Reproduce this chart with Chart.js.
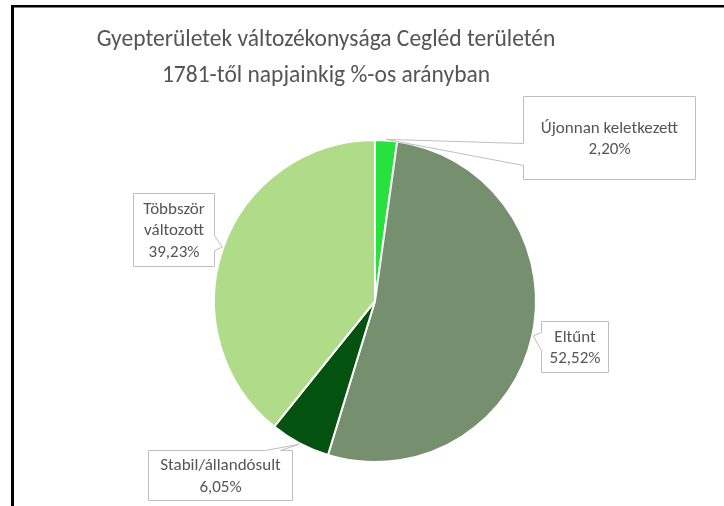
<!DOCTYPE html>
<html>
<head>
<meta charset="utf-8">
<script src="https://cdn.jsdelivr.net/npm/chart.js@4.4.1/dist/chart.umd.min.js"></script>
<style>
  html, body { margin: 0; padding: 0; background: #fff; }
  #wrap { width: 724px; height: 506px; }
</style>
</head>
<body>
<div id="wrap"><canvas id="chart-grass" width="724" height="506"></canvas></div>
<script>
const titleLines = ['Gyepterületek változékonysága Cegléd területén', '1781-től napjainkig %-os arányban'];
const categories = ['Újonnan keletkezett', 'Eltűnt', 'Stabil/állandósult', ['Többször', 'változott']];
const shares = [2.20, 52.52, 6.05, 39.23];
const sliceColors = ['#27e13c', '#768f6e', '#03520f', '#b0dc8a'];

const textColor = '#555555';
const fontFamily = 'Carlito, Lato, "Open Sans", sans-serif';

function pct(v) {
  return v.toFixed(2).replace('.', ',') + '%';
}

// title + the black frame of the original sheet
const sheetPlugin = {
  id: 'sheet',
  beforeDraw(chart, args, opts) {
    const ctx = chart.ctx;
    ctx.save();
    ctx.fillStyle = '#fff';
    ctx.fillRect(0, 0, chart.width, chart.height);
    ctx.fillStyle = textColor;
    ctx.font = opts.titleSize + 'px ' + fontFamily;
    ctx.textAlign = 'center';
    ctx.textBaseline = 'alphabetic';
    titleLines.forEach((line, i) => {
      ctx.fillText(line, opts.titleX, opts.titleY + i * opts.titleLead);
    });
    ctx.restore();
  },
  afterDraw(chart, args, opts) {
    const ctx = chart.ctx;
    ctx.save();
    ctx.fillStyle = '#000';
    ctx.fillRect(opts.frameX, opts.frameY, 3, chart.height);
    ctx.fillRect(opts.frameX, opts.frameY, chart.width, 2.5);
    ctx.restore();
  }
};

// excel style data callouts, a box with a wedge pointing at the slice
const calloutPlugin = {
  id: 'callouts',
  afterDatasetsDraw(chart, args, opts) {
    const ctx = chart.ctx;
    const meta = chart.getDatasetMeta(0);
    const values = chart.data.datasets[0].data;
    meta.data.forEach((arc, i) => {
      const box = opts.boxes[i];
      const p = arc.getProps(['x', 'y', 'startAngle', 'endAngle', 'outerRadius'], true);
      const mid = (p.startAngle + p.endAngle) / 2;
      const r = p.outerRadius + opts.tipGap;
      const tx = p.x + Math.cos(mid) * r;
      const ty = p.y + Math.sin(mid) * r;
      const x = Math.round(p.x + box.dx) + 0.5;
      const y = Math.round(p.y + box.dy) + 0.5;
      const w = box.w, h = box.h;
      const [a, b] = box.base;

      ctx.save();
      ctx.beginPath();
      ctx.moveTo(x, y);
      if (box.side === 'top') {
        ctx.lineTo(x + a, y);
        ctx.lineTo(tx, ty);
        ctx.lineTo(x + b, y);
      }
      ctx.lineTo(x + w, y);
      if (box.side === 'right') {
        ctx.lineTo(x + w, y + a);
        ctx.lineTo(tx, ty);
        ctx.lineTo(x + w, y + b);
      }
      ctx.lineTo(x + w, y + h);
      ctx.lineTo(x, y + h);
      if (box.side === 'left') {
        ctx.lineTo(x, y + b);
        ctx.lineTo(tx, ty);
        ctx.lineTo(x, y + a);
      }
      ctx.closePath();
      ctx.fillStyle = '#fff';
      ctx.fill();
      ctx.strokeStyle = '#bfbfbf';
      ctx.lineWidth = 1;
      ctx.stroke();

      const label = chart.data.labels[i];
      const lines = (Array.isArray(label) ? label : [label]).concat(pct(values[i]));
      ctx.fillStyle = textColor;
      ctx.font = opts.fontSize + 'px ' + fontFamily;
      ctx.textAlign = 'center';
      ctx.textBaseline = 'middle';
      const top = y + h / 2 - (lines.length - 1) * opts.lineHeight / 2 + 1;
      lines.forEach((ln, k) => {
        ctx.fillText(ln, x + w / 2, top + k * opts.lineHeight);
      });
      ctx.restore();
    });
  }
};

const ctx = document.getElementById('chart-grass').getContext('2d');
const chart = new Chart(ctx, {
  type: 'pie',
  data: {
    labels: categories,
    datasets: [{
      data: shares,
      backgroundColor: sliceColors,
      borderColor: '#ffffff',
      borderWidth: 2
    }]
  },
  options: {
    responsive: false,
    devicePixelRatio: 1,
    animation: false,
    layout: {
      padding: { top: 139, bottom: 43, left: 26, right: 0 }
    },
    plugins: {
      legend: { display: false },
      tooltip: { enabled: false },
      title: { display: false },
      sheet: {
        titleSize: 23.5, titleX: 326, titleY: 46, titleLead: 36,
        frameX: 11, frameY: 5
      },
      callouts: {
        fontSize: 17,
        lineHeight: 21.5,
        tipGap: 1,
        boxes: [
          { dx: 148, dy: -205, w: 172, h: 83, side: 'left', base: [47, 69] },
          { dx: 166, dy: 20, w: 67, h: 51, side: 'left', base: [11, 29] },
          { dx: -227, dy: 149, w: 144, h: 50, side: 'top', base: [117, 132] },
          { dx: -242, dy: -108, w: 81, h: 73, side: 'right', base: [42, 57] }
        ]
      }
    }
  },
  plugins: [sheetPlugin, calloutPlugin]
});
</script>
</body>
</html>
